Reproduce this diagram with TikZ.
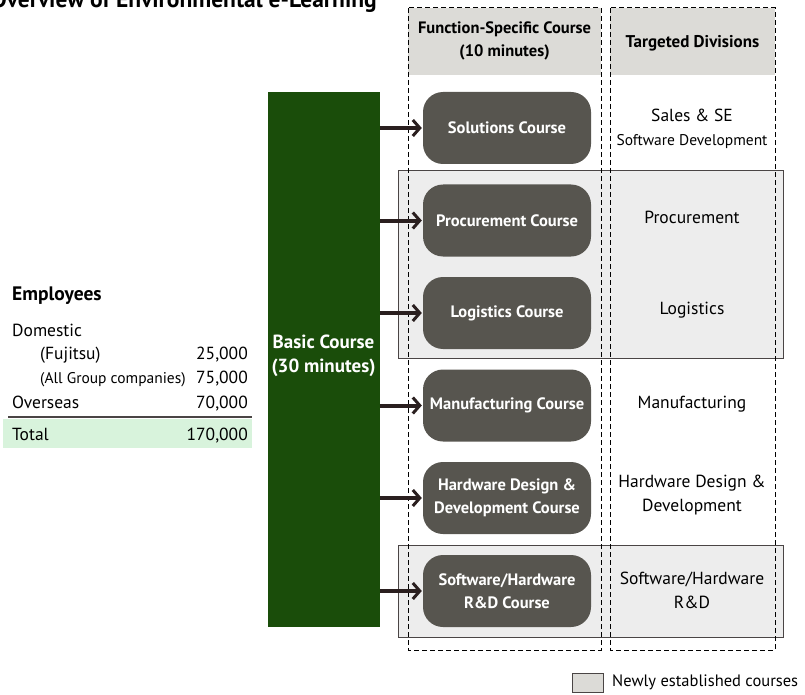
\documentclass[tikz,border=0pt]{standalone}
\usepackage{fontspec}
\setmainfont{PT Sans}
\usetikzlibrary{arrows.meta}

\definecolor{basicgreen}{HTML}{1A4D0A}
\definecolor{coursegray}{HTML}{57554F}
\definecolor{headgray}{HTML}{DCDBD7}
\definecolor{newgray}{HTML}{EDEDED}
\definecolor{framegray}{HTML}{4A4545}
\definecolor{arrowdark}{HTML}{2A1F1F}
\definecolor{totalgreen}{HTML}{D8F3DC}

\newcommand{\fs}[2]{\fontsize{#1}{#2}\selectfont}

\tikzset{
  course/.style={rounded corners=20pt, fill=coursegray, text=white,
    font=\bfseries\fs{16.5}{23}, minimum width=168pt, minimum height=72pt,
    align=center, inner sep=2pt},
  division/.style={align=center, font=\fs{17.5}{24}},
  feed/.style={-{Straight Barb[length=7pt,width=16pt,line width=3pt]},
    line width=4pt, draw=arrowdark, shorten >=1pt},
  column/.style={dashed, line width=1pt, dash pattern=on 5pt off 3pt},
  newbox/.style={fill=newgray, draw=framegray, line width=1pt},
  row/.style={font=\fs{17.5}{20}, inner sep=0pt},
}

\begin{document}
\begin{tikzpicture}[x=1pt, y=-1pt]
  \useasboundingbox (0,0) rectangle (805,695);
  \clip (0,0) rectangle (805,695);

  % title, cut off at the top
  \node[anchor=base west, font=\bfseries\fs{23.5}{26}, inner sep=0pt] (title)
    at (-9,8) {Overview of Environmental e-Learning};

  % newly established courses
  \draw[newbox] (398,171) rectangle (783,358);
  \draw[newbox] (398,545) rectangle (783,637);

  % the two columns
  \fill[headgray] (408,8) rectangle (601,75);
  \fill[headgray] (610,8) rectangle (775,75);
  \draw[column] (408,8) rectangle (601,650);
  \draw[column] (610,8) rectangle (775,650);
  \node[align=center, font=\bfseries\fs{16.5}{23}] (coursehead) at (504.5,41)
    {Function-Specific Course\\(10 minutes)};
  \node[font=\bfseries\fs{17}{20}] (divhead) at (692.5,43) {Targeted Divisions};

  % basic course
  \node[fill=basicgreen, text=white, minimum width=112pt, minimum height=535pt,
    inner sep=0pt] (basic) at (323.5,359.5) {};
  \node[align=center, text=white, font=\bfseries\fs{19}{24.5}] (basiclabel)
    at (323.5,356) {Basic Course\\(30 minutes)};

  % courses
  \node[course] (solutions) at (507,128) {Solutions Course};
  \node[course] (procurement) at (507,220.5) {Procurement Course};
  \node[course] (logistics) at (507,313) {Logistics Course};
  \node[course] (manufacturing) at (507,405.5) {Manufacturing Course};
  \node[course] (hardware) at (507,498) {Hardware Design \&\\Development Course};
  \node[course] (swhw) at (507,591) {Software/Hardware\\R\&D Course};

  \foreach \n in {solutions,procurement,logistics,manufacturing,hardware,swhw}
    \draw[feed] (basic.east |- \n.west) -- (\n.west);

  % targeted divisions
  \node[division] (salesdiv) at (692,129)
    {Sales \& SE\\{\fs{15.5}{20}Software Development}};
  \node[division] (procdiv) at (692,217) {Procurement};
  \node[division] (logdiv) at (692,310) {Logistics};
  \node[division] (manudiv) at (692,404) {Manufacturing};
  \node[division] (hwdiv) at (692,495) {Hardware Design \&\\Development};
  \node[division] (swhwdiv) at (692,590) {Software/Hardware\\R\&D};

  % employees
  \fill[totalgreen] (3,419) rectangle (252,448);
  \draw[framegray, line width=2pt] (8,417) -- (252,417);
  \node[row, anchor=base west, font=\bfseries\fs{19.5}{22}] (emp) at (12,300) {Employees};
  \node[row, anchor=base west] (dom) at (12,336) {Domestic};
  \node[row, anchor=base west] (fuj) at (40,359) {(Fujitsu)};
  \node[row, anchor=base east] (fujnum) at (248,359) {25,000};
  \node[row, anchor=base west, font=\fs{15.5}{18}] (grp) at (40,383) {(All Group companies)};
  \node[row, anchor=base east] (grpnum) at (248,383) {75,000};
  \node[row, anchor=base west] (ovs) at (12,408) {Overseas};
  \node[row, anchor=base east] (ovsnum) at (248,408) {70,000};
  \node[row, anchor=base west] (tot) at (12,440) {Total};
  \node[row, anchor=base east] (totnum) at (248,440) {170,000};

  % legend
  \draw[fill=headgray, draw=framegray, line width=1pt] (572,673) rectangle (603,692);
  \node[anchor=west, font=\fs{16.5}{18}, inner sep=0pt] (legend) at (612,682)
    {Newly established courses};
\end{tikzpicture}
\end{document}
